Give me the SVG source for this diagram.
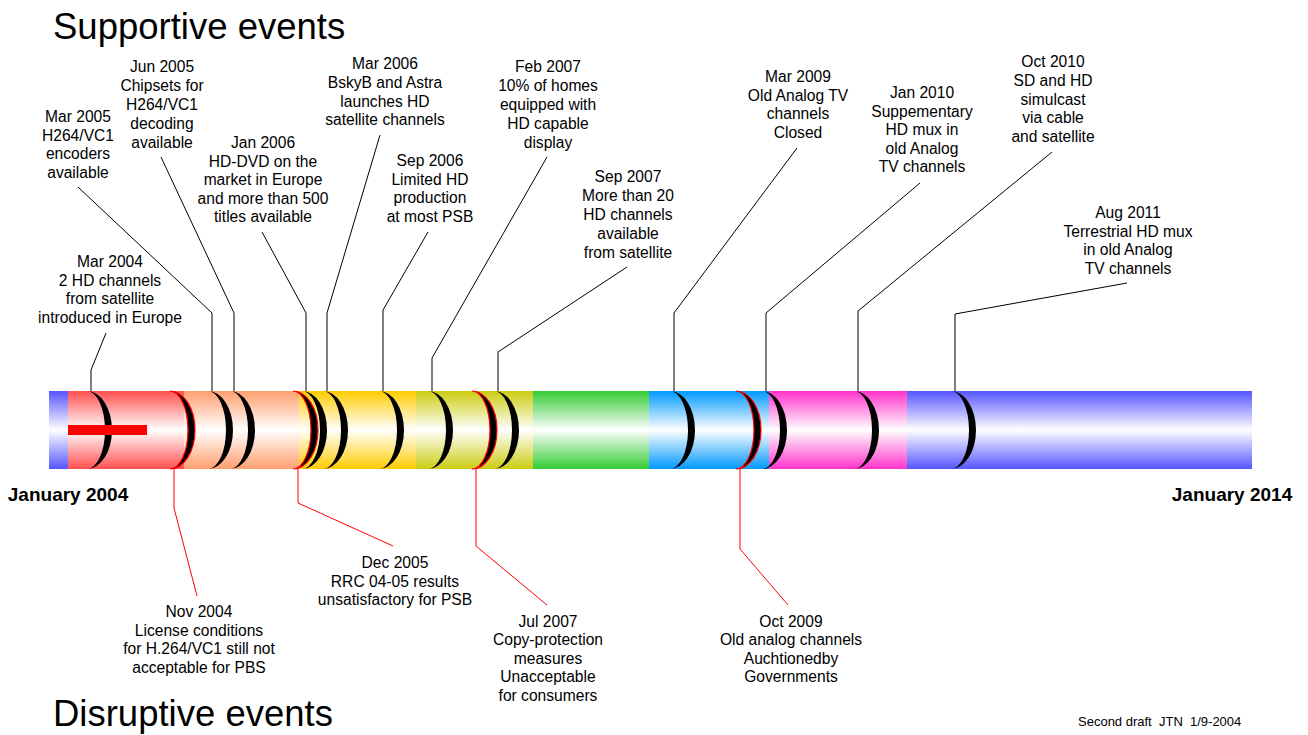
<svg xmlns="http://www.w3.org/2000/svg" xmlns:xlink="http://www.w3.org/1999/xlink" width="1308" height="735" viewBox="0 0 1308 735">
<style>
text{font-family:"Liberation Sans",Arial,sans-serif;fill:#000}
.lbl{font-size:15.6px;text-anchor:middle}
.title{font-size:36.5px}
.year{font-size:19px;font-weight:bold;text-anchor:middle}
.note{font-size:13px}
.sup{fill:#000}
.dis{fill:#000;stroke:#f00;stroke-width:1.2}
.lead{fill:none;stroke:#000;stroke-width:1}
.leadr{fill:none;stroke:#f00;stroke-width:1}
</style>
<defs>
<path id="cr" d="M0 391 A25 39 0 0 1 0 469 A18 39 0 0 0 0 391Z"/>
<linearGradient id="gPer" x1="0" y1="0" x2="0" y2="1"><stop offset="0" stop-color="#5555ff"/><stop offset="0.5" stop-color="#fff"/><stop offset="1" stop-color="#5555ff"/></linearGradient>
<linearGradient id="gRed" x1="0" y1="0" x2="0" y2="1"><stop offset="0" stop-color="#ff5050"/><stop offset="0.5" stop-color="#fff"/><stop offset="1" stop-color="#ff5050"/></linearGradient>
<linearGradient id="gSal" x1="0" y1="0" x2="0" y2="1"><stop offset="0" stop-color="#ff9f70"/><stop offset="0.5" stop-color="#fff"/><stop offset="1" stop-color="#ff9f70"/></linearGradient>
<linearGradient id="gGold" x1="0" y1="0" x2="0" y2="1"><stop offset="0" stop-color="#ffcc00"/><stop offset="0.5" stop-color="#fff"/><stop offset="1" stop-color="#ffcc00"/></linearGradient>
<linearGradient id="gYg" x1="0" y1="0" x2="0" y2="1"><stop offset="0" stop-color="#cccc11"/><stop offset="0.5" stop-color="#fff"/><stop offset="1" stop-color="#cccc11"/></linearGradient>
<linearGradient id="gGrn" x1="0" y1="0" x2="0" y2="1"><stop offset="0" stop-color="#33cc33"/><stop offset="0.5" stop-color="#fff"/><stop offset="1" stop-color="#33cc33"/></linearGradient>
<linearGradient id="gSky" x1="0" y1="0" x2="0" y2="1"><stop offset="0" stop-color="#0099ff"/><stop offset="0.5" stop-color="#fff"/><stop offset="1" stop-color="#0099ff"/></linearGradient>
<linearGradient id="gPnk" x1="0" y1="0" x2="0" y2="1"><stop offset="0" stop-color="#ff33cc"/><stop offset="0.5" stop-color="#fff"/><stop offset="1" stop-color="#ff33cc"/></linearGradient>
</defs>
<rect width="1308" height="735" fill="#fff"/>

<g id="titles">
<text class="title" x="53" y="39">Supportive events</text>
<text class="title" x="53" y="726">Disruptive events</text>
<text class="year" x="68" y="501">January 2004</text>
<text class="year" x="1232" y="501">January 2014</text>
<text class="note" x="1078" y="726" xml:space="preserve">Second draft  JTN  1/9-2004</text>
</g>

<g id="timeline-bar">
<rect x="49" y="391" width="1203" height="78" fill="url(#gPer)"/>
<rect x="68" y="391" width="116" height="78" fill="url(#gRed)"/>
<rect x="184" y="391" width="115" height="78" fill="url(#gSal)"/>
<rect x="299" y="391" width="117" height="78" fill="url(#gGold)"/>
<rect x="416" y="391" width="117" height="78" fill="url(#gYg)"/>
<rect x="533" y="391" width="116" height="78" fill="url(#gGrn)"/>
<rect x="649" y="391" width="120" height="78" fill="url(#gSky)"/>
<rect x="769" y="391" width="138" height="78" fill="url(#gPnk)"/>
</g>

<g id="connectors">
<polyline class="lead" points="91,391 91,370 106,333"/>
<polyline class="lead" points="212,391 212,313 78,187"/>
<polyline class="lead" points="234,391 234,313 161,157"/>
<polyline class="lead" points="306,391 306,313 262,232"/>
<polyline class="lead" points="327,391 327,313 380,135"/>
<polyline class="lead" points="383,391 383,310 428,232"/>
<polyline class="lead" points="432,391 432,358 547,157"/>
<polyline class="lead" points="498,391 498,352 627,267"/>
<polyline class="lead" points="674,391 674,313 797,148"/>
<polyline class="lead" points="766,391 766,313 920,183"/>
<polyline class="lead" points="858,391 858,311 1052,152"/>
<polyline class="lead" points="955,391 955,314 1127,283"/>
<polyline class="leadr" points="174,469 174,508 197,596"/>
<polyline class="leadr" points="298,469 298,503 393,546"/>
<polyline class="leadr" points="476,469 476,546 547,605"/>
<polyline class="leadr" points="740,469 740,549 788,605"/>
</g>

<g id="ev-2004-03"><use xlink:href="#cr" x="87" class="sup"/>
<text class="lbl" x="110" y="267">Mar 2004<tspan x="110" dy="18.7">2 HD channels</tspan><tspan x="110" dy="18.7">from satellite</tspan><tspan x="110" dy="18.7">introduced in Europe</tspan></text></g>
<g id="ev-2004-11"><use xlink:href="#cr" x="170" class="dis"/>
<text class="lbl" x="199" y="617">Nov 2004<tspan x="199" dy="18.5">License conditions</tspan><tspan x="199" dy="18.5">for H.264/VC1 still not</tspan><tspan x="199" dy="18.5">acceptable for PBS</tspan></text></g>
<g id="ev-2005-03"><use xlink:href="#cr" x="208" class="sup"/>
<text class="lbl" x="78" y="122">Mar 2005<tspan x="78" dy="18.7">H264/VC1</tspan><tspan x="78" dy="18.7">encoders</tspan><tspan x="78" dy="18.7">available</tspan></text></g>
<g id="ev-2005-06"><use xlink:href="#cr" x="230" class="sup"/>
<text class="lbl" x="162" y="72">Jun 2005<tspan x="162" dy="19">Chipsets for</tspan><tspan x="162" dy="19">H264/VC1</tspan><tspan x="162" dy="19">decoding</tspan><tspan x="162" dy="19">available</tspan></text></g>
<g id="ev-2005-12"><use xlink:href="#cr" x="293" class="dis"/>
<text class="lbl" x="395" y="568">Dec 2005<tspan x="395" dy="18.5">RRC 04-05 results</tspan><tspan x="395" dy="18.5">unsatisfactory for PSB</tspan></text></g>
<g id="ev-2006-01"><use xlink:href="#cr" x="302" class="sup"/>
<text class="lbl" x="263" y="148">Jan 2006<tspan x="263" dy="18.5">HD-DVD on the</tspan><tspan x="263" dy="18.5">market in Europe</tspan><tspan x="263" dy="18.5">and more than 500</tspan><tspan x="263" dy="18.5">titles available</tspan></text></g>
<g id="ev-2006-03"><use xlink:href="#cr" x="323" class="sup"/>
<text class="lbl" x="385" y="69">Mar 2006<tspan x="385" dy="19">BskyB and Astra</tspan><tspan x="385" dy="18.5">launches HD</tspan><tspan x="385" dy="18.5">satellite channels</tspan></text></g>
<g id="ev-2006-09"><use xlink:href="#cr" x="379" class="sup"/>
<text class="lbl" x="430" y="166">Sep 2006<tspan x="430" dy="18.7">Limited HD</tspan><tspan x="430" dy="18.7">production</tspan><tspan x="430" dy="18.7">at most PSB</tspan></text></g>
<g id="ev-2007-02"><use xlink:href="#cr" x="428" class="sup"/>
<text class="lbl" x="548" y="72">Feb 2007<tspan x="548" dy="19">10% of homes</tspan><tspan x="548" dy="19">equipped with</tspan><tspan x="548" dy="19">HD capable</tspan><tspan x="548" dy="19">display</tspan></text></g>
<g id="ev-2007-07"><use xlink:href="#cr" x="472" class="dis"/>
<text class="lbl" x="548" y="627">Jul 2007<tspan x="548" dy="18.4">Copy-protection</tspan><tspan x="548" dy="18.4">measures</tspan><tspan x="548" dy="18.4">Unacceptable</tspan><tspan x="548" dy="18.4">for consumers</tspan></text></g>
<g id="ev-2007-09"><use xlink:href="#cr" x="494" class="sup"/>
<text class="lbl" x="628" y="182">Sep 2007<tspan x="628" dy="18.9">More than 20</tspan><tspan x="628" dy="18.9">HD channels</tspan><tspan x="628" dy="18.9">available</tspan><tspan x="628" dy="18.9">from satellite</tspan></text></g>
<g id="ev-2009-03"><use xlink:href="#cr" x="670" class="sup"/>
<text class="lbl" x="798" y="82">Mar 2009<tspan x="798" dy="18.7">Old Analog TV</tspan><tspan x="798" dy="18.7">channels</tspan><tspan x="798" dy="18.7">Closed</tspan></text></g>
<g id="ev-2009-10"><use xlink:href="#cr" x="736" class="dis"/>
<text class="lbl" x="791" y="627">Oct 2009<tspan x="791" dy="18.4">Old analog channels</tspan><tspan x="791" dy="18.4">Auchtionedby</tspan><tspan x="791" dy="18.4">Governments</tspan></text></g>
<g id="ev-2010-01"><use xlink:href="#cr" x="762" class="sup"/>
<text class="lbl" x="922" y="98">Jan 2010<tspan x="922" dy="18.5">Suppementary</tspan><tspan x="922" dy="18.5">HD mux in</tspan><tspan x="922" dy="18.5">old Analog</tspan><tspan x="922" dy="18.5">TV channels</tspan></text></g>
<g id="ev-2010-10"><use xlink:href="#cr" x="854" class="sup"/>
<text class="lbl" x="1053" y="67">Oct 2010<tspan x="1053" dy="18.8">SD and HD</tspan><tspan x="1053" dy="18.8">simulcast</tspan><tspan x="1053" dy="18.8">via cable</tspan><tspan x="1053" dy="18.8">and satellite</tspan></text></g>
<g id="ev-2011-08"><use xlink:href="#cr" x="951" class="sup"/>
<text class="lbl" x="1128" y="218">Aug 2011<tspan x="1128" dy="18.7">Terrestrial HD mux</tspan><tspan x="1128" dy="18.7">in old Analog</tspan><tspan x="1128" dy="18.7">TV channels</tspan></text></g>

<g id="marker-bar"><rect x="68" y="425" width="79" height="10" fill="#f00"/></g>
</svg>
